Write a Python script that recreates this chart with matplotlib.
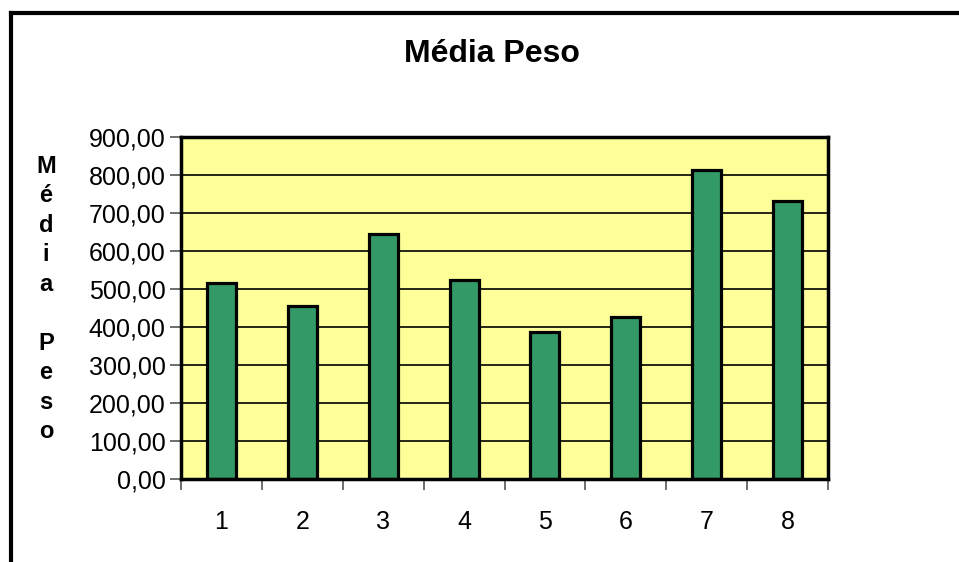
import matplotlib
matplotlib.use("Agg")
import matplotlib.pyplot as plt
from matplotlib.lines import Line2D
from matplotlib.ticker import FixedLocator, FuncFormatter

categories = ["1", "2", "3", "4", "5", "6", "7", "8"]
values = [516, 456, 645, 523, 388, 426, 814, 731]
yticks = [0, 100, 200, 300, 400, 500, 600, 700, 800, 900]
title = "Média Peso"
ylabel = "Média Peso"

plt.rcParams['font.family'] = ['Liberation Sans', 'DejaVu Sans']

fig = plt.figure(figsize=(9.59, 5.62), dpi=100)
ax = fig.add_axes([181/959, 83/562, (828-181)/959, (479-137)/562])

x = list(range(1, len(categories) + 1))
ax.set_facecolor('#FFFF99')
ax.bar(x, values, width=0.36, color='#339966', edgecolor='black', linewidth=2.3, zorder=3)

ax.set_xlim(0.5, len(categories) + 0.5)
ax.set_ylim(0, 900)
ax.set_yticks(yticks)
ax.yaxis.set_major_formatter(FuncFormatter(lambda v, p: f"{v:.2f}".replace('.', ',')))
ax.grid(axis='y', color='black', linewidth=1.2, zorder=1)

ax.set_xticks(x)
ax.set_xticklabels(categories)
ax.xaxis.set_minor_locator(FixedLocator([i + 0.5 for i in range(0, len(categories) + 1)]))
ax.tick_params(axis='x', which='major', length=0, pad=22, labelsize=18)
ax.tick_params(axis='x', which='minor', length=8, width=1.2, color='#555555', direction='out')
ax.tick_params(axis='y', which='major', length=8, width=1.2, color='#555555', pad=3, labelsize=18)

for s in ax.spines.values():
    s.set_linewidth(2.5)
    s.set_color('black')
    s.set_zorder(4)

fig.text(492/959, 1 - 54/562, title, ha='center', va='center', fontsize=23, fontweight='bold')
fig.text(46/959, 1 - 299/562, "\n".join(list(ylabel)), ha='center', va='center',
         fontsize=17, fontweight='bold', linespacing=1.36)

# figure border (left and top visible)
fig.add_artist(Line2D([11/959, 11/959], [0, 1 - 13/562], transform=fig.transFigure, color='black', linewidth=3))
fig.add_artist(Line2D([11/959, 1], [1 - 13/562, 1 - 13/562], transform=fig.transFigure, color='black', linewidth=3))

fig.savefig("out.png", dpi=100)
